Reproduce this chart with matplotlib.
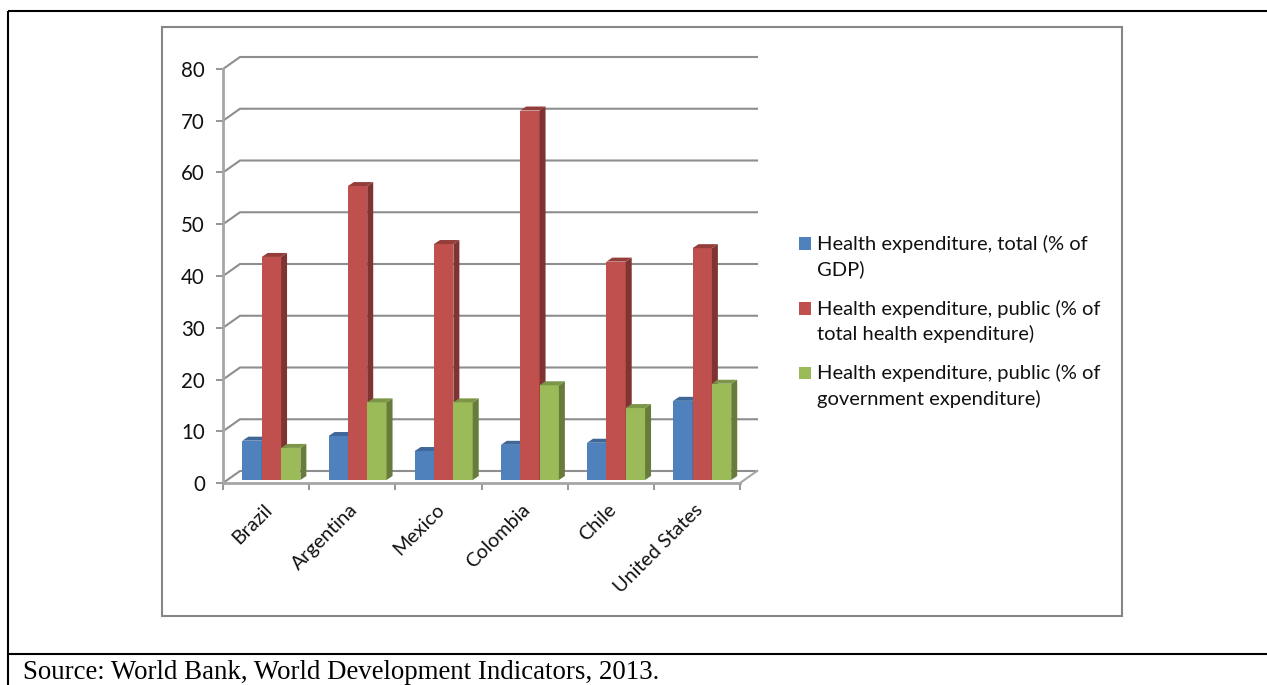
import matplotlib
matplotlib.use('Agg')
import matplotlib.pyplot as plt
import numpy as np
from matplotlib.patches import Polygon, Rectangle
from matplotlib.lines import Line2D
from matplotlib.transforms import ScaledTranslation

W, H = 1267, 685

countries = ['Brazil', 'Argentina', 'Mexico', 'Colombia', 'Chile', 'United States']
total_gdp = [7.6, 8.5, 5.6, 6.8, 7.2, 15.3]
public_total = [43.1, 56.8, 45.6, 71.4, 42.2, 44.8]
public_gov = [6.2, 15.0, 15.0, 18.3, 13.9, 18.6]
series_names = ['Health expenditure, total (% of\nGDP)',
                'Health expenditure, public (% of\ntotal health expenditure)',
                'Health expenditure, public (% of\ngovernment expenditure)']
yticks = [0, 10, 20, 30, 40, 50, 60, 70, 80]
source = 'Source: World Bank, World Development Indicators, 2013.'

front = ['#4F81BD', '#C0504D', '#9BBB59']
side = ['#3A6090', '#7F3432', '#677C3B']
top = ['#3F6797', '#943E3B', '#7C9647']
grey = '#8E8E8E'

plt.rcParams['font.family'] = ['Lato', 'DejaVu Sans']

fig = plt.figure(figsize=(W/100, H/100), dpi=100)

# page frame and chart border, in pixels from the top left
def px_line(x0, y0, x1, y1, color='k', lw=1.5):
    fig.add_artist(Line2D([x0/W, x1/W], [1-y0/H, 1-y1/H], color=color, lw=lw,
                          transform=fig.transFigure, solid_capstyle='butt'))

px_line(8, 11, W, 11)
px_line(8, 11, 8, H)
px_line(8, 654, W, 654)
fig.add_artist(Rectangle((162/W, 1-616/H), 960/W, 589/H, fill=False, ec='#868686',
                         lw=1.5, transform=fig.transFigure))

# front plane of the plot
ax_l, ax_r, ax_top, ax_bot = 223, 740, 69, 483
ax = fig.add_axes([ax_l/W, 1-ax_bot/H, (ax_r-ax_l)/W, (ax_bot-ax_top)/H])
ax.set_xlim(0, 6)
ax.set_ylim(0, 80)
ax.patch.set_visible(False)
for s in ['top', 'right']:
    ax.spines[s].set_visible(False)
for s in ['left', 'bottom']:
    ax.spines[s].set_color('#A6A6A6')
    ax.spines[s].set_linewidth(2)

ux = (ax_r-ax_l)/6     # px per category
uy = (ax_bot-ax_top)/80  # px per y unit

# walls: gridlines sit on the back, joined to the axis by diagonals
wall_dx, wall_dy = 17/ux, 12/uy
for v in yticks:
    ax.plot([0, wall_dx, 6+wall_dx], [v, v+wall_dy, v+wall_dy], color=grey, lw=1.5,
            clip_on=False, zorder=1, solid_joinstyle='miter')
ax.plot([6, 6+wall_dx], [0, wall_dy], color='#A6A6A6', lw=1.5, clip_on=False, zorder=1)

# bars
bar_w = 19.33/ux
depth_dx, depth_dy = 6/ux, 4/uy
x = np.arange(len(countries)) + 0.5
for k, vals in enumerate([total_gdp, public_total, public_gov]):
    # bars stand a little way into the floor
    off_x, off_y = 5.3/ux, 3/uy
    left = x + (k-1.5)*bar_w + off_x
    bars = ax.bar(left, vals, width=bar_w, bottom=off_y, align='edge', color=front[k],
                  zorder=3+k, clip_on=False, label=series_names[k])
    for b in bars:
        x0, w, y0, h = b.get_x(), b.get_width(), b.get_y(), b.get_height()
        ax.add_patch(Polygon([(x0+w, y0), (x0+w+depth_dx, y0+depth_dy),
                              (x0+w+depth_dx, y0+h+depth_dy), (x0+w, y0+h)],
                             closed=True, fc=side[k], ec='none', zorder=3+k, clip_on=False))
        ax.add_patch(Polygon([(x0, y0+h), (x0+depth_dx, y0+h+depth_dy),
                              (x0+w+depth_dx, y0+h+depth_dy), (x0+w, y0+h)],
                             closed=True, fc=top[k], ec='none', zorder=3+k, clip_on=False))

# axes ticks
ax.set_yticks(yticks)
ax.tick_params(axis='y', labelsize=14.8, length=5, width=1.3, color=grey, pad=8,
               labelcolor='#111111', direction='out')
ax.set_xticks(np.arange(0, 7), minor=True)
ax.tick_params(axis='x', which='minor', length=5, width=1.3, color=grey)
ax.set_xticks(x)
ax.set_xticklabels(countries, rotation=45, ha='right', rotation_mode='anchor')
ax.tick_params(axis='x', which='major', length=0, labelsize=14.2, pad=13, labelcolor='#111111')
for lab in ax.get_xticklabels():
    lab.set_transform(lab.get_transform() + ScaledTranslation(-3/100, 0, fig.dpi_scale_trans))

leg = fig.legend(loc='upper left', bbox_to_anchor=(799/W, 1-235/H),
                 bbox_transform=fig.transFigure, frameon=False, fontsize=14.5,
                 handlelength=0.6, handleheight=0.6, handletextpad=0.3,
                 labelspacing=1.05, borderpad=0, borderaxespad=0)
for t in leg.get_texts():
    t.set_color('#111111')
    t.set_linespacing(1.5)
# swatch lines up with the first line of its label
for h in leg.legend_handles:
    h.set_y(h.get_y() + 9.4)

fig.text(23/W, 1-679/H, source, family='Liberation Serif', fontsize=19.4,
         color='k', va='baseline', ha='left')

fig.savefig('out.png', dpi=100)
